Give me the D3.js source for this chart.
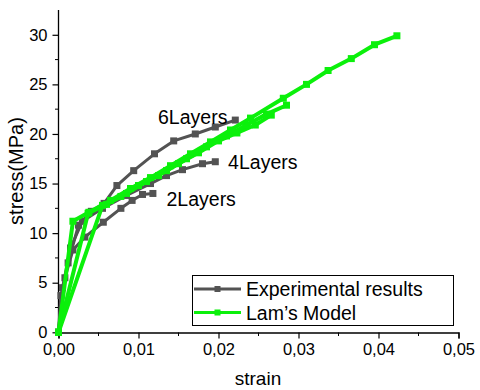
<!DOCTYPE html>
<html lang="en">
  <head>
    <meta charset="UTF-8" />
    <title>stress-strain</title>
    <style>
      body { margin: 0; background: #fff; }
      text { font-family: "Liberation Sans", Arial, sans-serif; fill: #000; }
    </style>
  </head>
  <body>
    <svg id="chart" width="480" height="390"></svg>

    <script src="https://d3js.org/d3.v7.min.js"></script>
    <script>
      // experimental curves [strain, stress]
      const exp2Layers = [[0, 0], [0.0008, 5.5], [0.0018, 8.3], [0.0033, 9.6], [0.0056, 11.1], [0.0078, 12.5], [0.0092, 13.3], [0.0105, 13.9], [0.0118, 14.0]];
      const exp4Layers = [[0, 0], [0.0005, 4.5], [0.0015, 8.5], [0.003, 11.2], [0.0055, 12.5], [0.0085, 13.8], [0.0115, 15.0], [0.0135, 15.8], [0.0155, 16.4], [0.018, 17.0], [0.0196, 17.2]];
      const exp6Layers = [[0, 0], [0.0003, 3.7], [0.0012, 7.0], [0.0025, 10.8], [0.0041, 12.2], [0.0057, 13.0], [0.0073, 14.8], [0.0094, 16.3], [0.012, 18.0], [0.0144, 19.3], [0.0171, 20.0], [0.0196, 20.7], [0.0221, 21.4]];

      // Lam's model curves
      const lamA = [[0, 0], [0.0018, 11.2], [0.0038, 12.1], [0.0065, 13.3], [0.009, 14.5], [0.0115, 15.6], [0.014, 16.8], [0.0165, 18.0], [0.019, 19.2], [0.0215, 20.4], [0.024, 21.6], [0.0281, 23.6], [0.031, 25.0], [0.0337, 26.4], [0.0366, 27.6], [0.0395, 29.0], [0.0423, 29.9]];
      const lamB = [[0, 0], [0.0037, 12.0], [0.006, 12.9], [0.0085, 14.0], [0.011, 15.2], [0.0135, 16.3], [0.016, 17.5], [0.0185, 18.7], [0.021, 19.8], [0.0235, 20.9], [0.026, 22.0], [0.0285, 22.9]];
      const lamC = [[0, 0], [0.0055, 12.8], [0.0078, 13.7], [0.01, 14.8], [0.0125, 15.8], [0.015, 17.0], [0.0175, 18.1], [0.02, 19.3], [0.0223, 20.1], [0.0246, 20.9], [0.0266, 21.9]];

      const xTicks = [0, 0.01, 0.02, 0.03, 0.04, 0.05];
      const xTickLabels = ["0,00", "0,01", "0,02", "0,03", "0,04", "0,05"];
      const yTicks = [0, 5, 10, 15, 20, 25, 30];

      const curveLabels = [
        { text: "6Layers", x: 0.01244, y: 21.0 },
        { text: "4Layers", x: 0.0212, y: 16.45 },
        { text: "2Layers", x: 0.0135, y: 12.7 }
      ];

      const gray = "#535353";
      const green = "#0bf00b";

      const svg = d3.select("#chart");
      const x = d3.scaleLinear().domain([0, 0.05]).range([58.5, 458.5]);
      const y = d3.scaleLinear().domain([0, 32.5]).range([332.3, 10]);

      // axes
      const xMinor = d3.range(0.005, 0.05, 0.01);
      const yMinor = d3.range(2.5, 32.5, 5);

      const gx = svg.append("g").attr("transform", "translate(0,332.5)");
      gx.call(d3.axisBottom(x).tickValues(xTicks).tickFormat((d, i) => xTickLabels[i]).tickSizeOuter(0).tickSize(6).tickPadding(5));
      gx.selectAll(".minor").data(xMinor).enter().append("line")
        .attr("x1", (d) => x(d)).attr("x2", (d) => x(d)).attr("y1", 0).attr("y2", 3.5)
        .attr("stroke", "#000");

      const gy = svg.append("g").attr("transform", "translate(58.5,0)");
      gy.call(d3.axisLeft(y).tickValues(yTicks).tickSizeOuter(0).tickSize(6).tickPadding(5));
      gy.selectAll(".minor").data(yMinor).enter().append("line")
        .attr("x1", 0).attr("x2", -3.5).attr("y1", (d) => y(d)).attr("y2", (d) => y(d))
        .attr("stroke", "#000");

      svg.selectAll(".domain").attr("stroke", "#000").attr("stroke-width", 1.3);
      svg.selectAll(".tick line").attr("stroke", "#000").attr("stroke-width", 1.2);
      svg.selectAll(".tick text").style("font-size", "16.5px").attr("fill", "#000");

      // y domain line up to top
      gy.select(".domain").attr("d", `M0,${y(32.5)}V${y(0)}`);

      svg.append("text").attr("x", 258).attr("y", 385).attr("text-anchor", "middle")
        .style("font-size", "19px").text("strain");
      svg.append("text").attr("transform", "translate(23,171) rotate(-90)").attr("text-anchor", "middle")
        .style("font-size", "20px").text("stress(MPa)");

      const line = d3.line().x((d) => x(d[0])).y((d) => y(d[1]));

      function drawSeries(data, color, width) {
        const g = svg.append("g");
        g.append("path").attr("d", line(data)).attr("fill", "none")
          .attr("stroke", color).attr("stroke-width", width).attr("stroke-linejoin", "round");
        g.selectAll("rect").data(data).enter().append("rect")
          .attr("x", (d) => x(d[0]) - 3.5).attr("y", (d) => y(d[1]) - 3.5)
          .attr("width", 7).attr("height", 7).attr("fill", color);
      }

      [exp2Layers, exp4Layers, exp6Layers].forEach((s) => drawSeries(s, gray, 3));
      [lamC, lamB, lamA].forEach((s) => drawSeries(s, green, 4));

      curveLabels.forEach((l) => {
        svg.append("text").attr("x", x(l.x)).attr("y", y(l.y)).style("font-size", "19.5px").text(l.text);
      });

      // legend
      const leg = svg.append("g");
      leg.append("rect").attr("x", 192.5).attr("y", 275.5).attr("width", 261).attr("height", 50)
        .attr("fill", "#fff").attr("stroke", "#000").attr("stroke-width", 1);
      const legendItems = [
        { label: "Experimental results", color: gray, cy: 289 },
        { label: "Lam\u2019s Model", color: green, cy: 312.5 }
      ];
      legendItems.forEach((it) => {
        leg.append("line").attr("x1", 194).attr("x2", 241).attr("y1", it.cy).attr("y2", it.cy)
          .attr("stroke", it.color).attr("stroke-width", 3);
        leg.append("rect").attr("x", 214.5).attr("y", it.cy - 3).attr("width", 6).attr("height", 6).attr("fill", it.color);
        leg.append("text").attr("x", 246).attr("y", it.cy + 7).style("font-size", "19.5px").text(it.label);
      });
    </script>
  </body>
</html>
